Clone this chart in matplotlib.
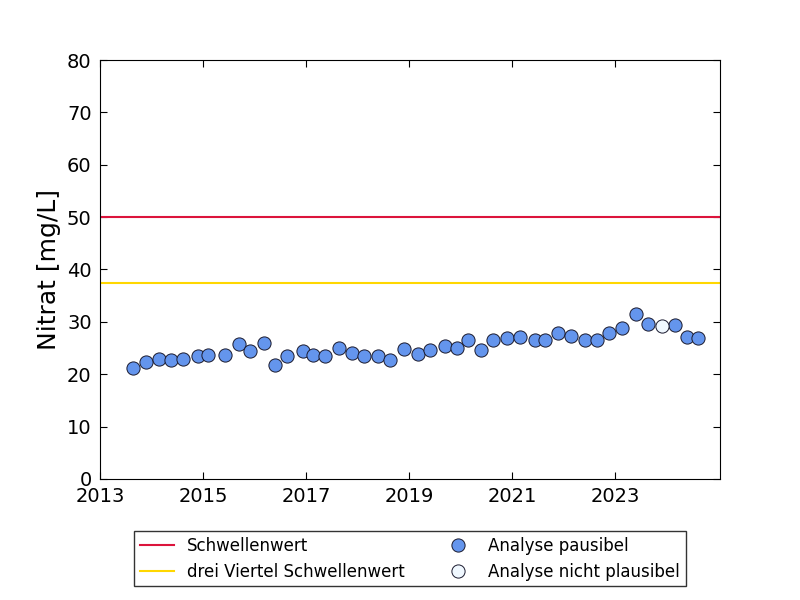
import numpy as np
import matplotlib
matplotlib.use("Agg")
import matplotlib.pyplot as plt

# Messdaten (Dezimaljahr, Nitrat mg/L)
jahr = [2013.64, 2013.89, 2014.15, 2014.38, 2014.62, 2014.90, 2015.10, 2015.43,
        2015.70, 2015.91, 2016.19, 2016.40, 2016.64, 2016.94, 2017.14, 2017.37,
        2017.64, 2017.90, 2018.13, 2018.40, 2018.64, 2018.90, 2019.18, 2019.41,
        2019.69, 2019.94, 2020.15, 2020.40, 2020.64, 2020.90, 2021.16, 2021.45,
        2021.65, 2021.90, 2022.15, 2022.42, 2022.66, 2022.89, 2023.14, 2023.41,
        2023.65, 2024.17, 2024.40, 2024.62]
nitrat = [21.1, 22.3, 23.0, 22.7, 23.0, 23.4, 23.6, 23.6,
          25.8, 24.4, 25.9, 21.8, 23.5, 24.4, 23.6, 23.5,
          25.1, 24.1, 23.5, 23.5, 22.7, 24.8, 23.9, 24.6,
          25.4, 25.0, 26.5, 24.6, 26.5, 26.9, 27.1, 26.5,
          26.5, 27.8, 27.3, 26.5, 26.5, 27.8, 28.8, 31.5,
          29.5, 29.4, 27.1, 26.9]
jahr_np = [2023.92]
nitrat_np = [29.2]

schwellenwert = 50
drei_viertel = 37.5

fig = plt.figure(figsize=(8, 6), dpi=100)
ax = fig.add_axes([0.125, 0.2017, 0.775, 0.6983])

ax.axhline(schwellenwert, color='#DC143C', lw=1.5, label='Schwellenwert')
ax.axhline(drei_viertel, color='#FFD700', lw=1.5, label='drei Viertel Schwellenwert')
ax.plot(jahr, nitrat, 'o', color='#6495ED', mec='#1a1a2e', mew=0.7, ms=9.5,
        label='Analyse pausibel')
ax.plot(jahr_np, nitrat_np, 'o', color='#F0F8FF', mec='#1a1a2e', mew=0.7, ms=9.5,
        label='Analyse nicht plausibel')

ax.set_xlim(2013, 2025.04)
ax.set_ylim(0, 80)
ax.set_xticks(np.arange(2013, 2024, 2))
ax.set_yticks(np.arange(0, 81, 10))
ax.tick_params(direction='in', top=True, right=True, labelsize=14, length=5, pad=6)
ax.set_ylabel('Nitrat [mg/L]', fontsize=18)

ax.legend(loc='upper center', bbox_to_anchor=(0.5, -0.105), ncol=2, fontsize=12,
          frameon=True, fancybox=False, edgecolor='black', numpoints=1,
          handlelength=2.0, columnspacing=2.2, borderpad=0.35, labelspacing=0.45)

fig.savefig('out.png', dpi=100, facecolor='white')
